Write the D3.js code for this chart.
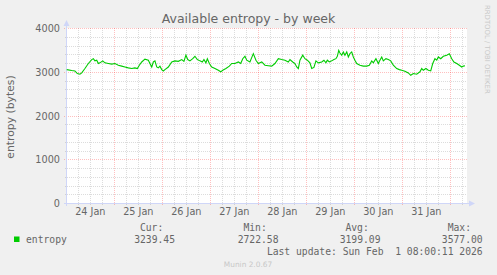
<!DOCTYPE html>
<html><head><meta charset="utf-8">
<script src="https://cdn.jsdelivr.net/npm/d3@7"></script>
<style>html,body{margin:0;padding:0;background:#f0f0f0;} svg{display:block;}</style>
</head><body>
<svg id="chart" width="497" height="275"></svg>
<script>
// ---- data ----
const title = "Available entropy - by week";
const yLabel = "entropy (bytes)";
const seriesName = "entropy";
const yTicks = [0, 1000, 2000, 3000, 4000];
const xTickLabels = ["24 Jan","25 Jan","26 Jan","27 Jan","28 Jan","29 Jan","30 Jan","31 Jan"];
const statLabels = ["Cur:", "Min:", "Avg:", "Max:"];
const statValues = ["3239.45", "2722.58", "3199.09", "3577.00"];
const lastUpdate = "Last update: Sun Feb  1 08:00:11 2026";
// hours since 24 Jan 2026 00:00 UTC
const hours = [0.2,2.7,4.3,5.5,6.8,7.7,9.3,11.0,12.7,13.5,14.3,15.2,16.0,16.8,18.2,19.3,21.0,22.7,24.3,26.0,27.7,29.3,31.0,32.7,34.3,35.5,36.5,37.7,39.3,41.0,41.8,42.7,43.5,44.3,45.2,46.0,46.8,47.7,48.5,49.3,51.0,52.7,54.3,56.0,57.7,58.8,59.8,60.7,61.8,63.2,64.3,65.5,66.8,68.0,68.8,69.8,70.5,71.5,72.7,74.3,76.0,77.2,78.2,79.8,81.5,82.7,84.3,86.0,87.2,88.2,89.3,90.2,91.8,
93.5,94.8,96.0,97.7,99.3,101.0,102.7,104.3,106.0,107.7,109.3,111.0,111.8,113.2,114.3,115.2,116.0,116.8,118.2,119.3,120.5,121.8,122.7,123.8,124.8,126.0,127.7,128.8,129.8,130.5,131.5,132.7,133.8,134.8,135.5,136.2,136.8,137.7,138.5,139.3,140.2,141.0,141.8,142.7,143.5,144.3,145.2,146.8,148.5,150.2,151.5,152.7,153.5,154.8,156.0,156.8,157.7,158.5,159.8,161.0,162.2,163.5,165.2,166.5,167.7,169.3,171.0,172.2,173.5,175.2,176.8,177.7,178.5,179.8,181.0,182.2,183.2,184.3,185.2,186.0,187.2,188.5,190.2,191.5,192.7,193.8,195.2,196.5,197.7,198.5,199.3];
const entropy = [3060,3040,3030,2970,2955,2985,3085,3200,3290,3310,3260,3275,3200,3215,3260,3215,3200,3185,3200,3160,3140,3120,3100,3085,3100,3085,3160,3235,3300,3275,3200,3120,3235,3260,3120,3100,3140,3060,3030,3060,3120,3235,3260,3250,3290,3250,3390,3290,3260,3310,3365,3290,3260,3235,3290,3215,3310,3200,3120,3085,3045,3010,3045,3085,3140,3200,3200,3235,3200,3310,3365,3275,3235,
3425,3275,3200,3235,3160,3150,3140,3200,3310,3290,3275,3235,3290,3235,3200,3120,3085,3275,3390,3310,3275,3215,3085,3110,3260,3215,3235,3275,3215,3275,3235,3260,3290,3310,3365,3500,3440,3390,3465,3390,3465,3350,3425,3465,3350,3275,3200,3160,3140,3140,3160,3260,3215,3310,3200,3275,3350,3260,3310,3290,3260,3160,3085,3060,3045,3025,2985,2930,2970,2955,3010,3085,3045,3085,3045,3030,3200,3310,3275,3350,3310,3365,3390,3425,3310,3235,3200,3160,3120,3140,3150];

// ---- layout ----
const svg = d3.select("#chart");
const W = 497, H = 275;
const pLeft = 67, pRight = 467, pTop = 28, pBottom = 203;
const fontSans = "'DejaVu Sans', sans-serif";
const fontMono = "'DejaVu Sans Mono', monospace";
const textCol = "#666666";
const axisCol = "#cfd6f8";
const minorCol = "rgba(140,140,140,0.3)";
const majorCol = "rgba(255,0,0,0.25)";

const t0 = Date.UTC(2026,0,24,0,0);
const tStart = new Date(Date.UTC(2026,0,24,0,20));
const tEnd = new Date(tStart.getTime() + 200*3600e3);

const x = d3.scaleUtc().domain([tStart, tEnd]).range([pLeft, pRight]);
const y = d3.scaleLinear().domain([0, 4000]).range([pBottom + 0.5, pTop + 0.5]);
const px = v => Math.floor(x(v)) + 0.5;
const py = v => Math.floor(y(v)) + 0.5;

svg.append("rect").attr("width", W).attr("height", H).attr("fill", "#f0f0f0");
svg.append("rect").attr("x", pLeft).attr("y", pTop).attr("width", pRight-pLeft).attr("height", pBottom-pTop+1).attr("fill", "#ffffff");

const grid = svg.append("g").attr("shape-rendering", "crispEdges");
d3.range(0, 4001, 200).filter(v => v % 1000 !== 0).forEach(v => {
  grid.append("line").attr("x1", pLeft-2).attr("x2", pRight).attr("y1", py(v)).attr("y2", py(v))
    .attr("stroke", minorCol).attr("stroke-dasharray", "1,1");
});
d3.utcHour.every(6).range(tStart, tEnd).filter(d => d.getUTCHours() !== 0).forEach(d => {
  grid.append("line").attr("x1", px(d)).attr("x2", px(d)).attr("y1", pTop).attr("y2", pBottom+2)
    .attr("stroke", minorCol).attr("stroke-dasharray", "1,1");
});
yTicks.forEach(v => {
  grid.append("line").attr("x1", pLeft-3).attr("x2", pRight).attr("y1", py(v)).attr("y2", py(v))
    .attr("stroke", majorCol).attr("stroke-dasharray", "1,1");
});
d3.utcDay.range(tStart, tEnd).forEach(d => {
  grid.append("line").attr("x1", px(d)).attr("x2", px(d)).attr("y1", pTop).attr("y2", pBottom+3)
    .attr("stroke", majorCol).attr("stroke-dasharray", "1,1");
});

// axes
const ax = svg.append("g");
ax.append("line").attr("x1", pLeft-0.5).attr("x2", pLeft-0.5).attr("y1", pBottom+3).attr("y2", pTop-4)
  .attr("stroke", axisCol).attr("shape-rendering", "crispEdges");
ax.append("path").attr("d", `M${pLeft-3.5},${pTop-2} L${pLeft-0.5},${pTop-8} L${pLeft+2.5},${pTop-2} Z`).attr("fill", axisCol);
ax.append("line").attr("x1", pLeft-3).attr("x2", pRight+3).attr("y1", pBottom+0.5).attr("y2", pBottom+0.5)
  .attr("stroke", axisCol).attr("shape-rendering", "crispEdges");
ax.append("path").attr("d", `M${pRight+2},${pBottom-2.5} L${pRight+8},${pBottom+0.5} L${pRight+2},${pBottom+3.5} Z`).attr("fill", axisCol);

// line
const data = hours.map((h, i) => ({t: new Date(t0 + h*3600e3), v: entropy[i]}));
svg.append("path").datum(data)
  .attr("d", d3.line().x(d => x(d.t)).y(d => y(d.v)))
  .attr("fill", "none").attr("stroke", "#00cc00").attr("stroke-width", 1.1);

// y tick labels
svg.append("g").selectAll("text").data(yTicks).join("text")
  .attr("x", 60).attr("y", d => py(d)).attr("dy", "0.35em")
  .attr("text-anchor", "end").attr("font-family", fontSans).attr("font-size", 9.7)
  .attr("fill", textCol).text(d => d);

// x tick labels (centered on noon)
svg.append("g").selectAll("text").data(xTickLabels).join("text")
  .attr("x", (d, i) => x(new Date(t0 + (i*24 + 12)*3600e3)))
  .attr("y", 215).attr("text-anchor", "middle").attr("font-family", fontSans).attr("font-size", 9.7)
  .attr("fill", textCol).text(d => d);

// title
svg.append("text").attr("x", 248.5).attr("y", 23).attr("text-anchor", "middle")
  .attr("font-family", fontSans).attr("font-size", 12.5).attr("fill", textCol).text(title);

// y label
svg.append("text").attr("transform", "translate(14,117) rotate(-90)").attr("text-anchor", "middle")
  .attr("font-family", fontSans).attr("font-size", 10.8).attr("fill", textCol).text(yLabel);

// rrdtool watermark (right side)
svg.append("text").attr("transform", "translate(485,5) rotate(90)").attr("text-anchor", "start")
  .attr("font-family", fontSans).attr("font-size", 6.9).attr("fill", "#c8c8c8").text("RRDTOOL / TOBI OETIKER");

// legend
svg.append("rect").attr("x", 14).attr("y", 236.5).attr("width", 5.5).attr("height", 5.5).attr("fill", "#00cc00");
svg.append("text").attr("x", 26).attr("y", 242.7).attr("font-family", fontMono).attr("font-size", 9.7)
  .attr("fill", textCol).text(seriesName);
const colEnds = [175, 278.5, 380.5, 482.7];
statLabels.forEach((s, i) => {
  svg.append("text").attr("x", colEnds[i] - 11.7).attr("y", 231).attr("text-anchor", "end")
    .attr("font-family", fontMono).attr("font-size", 9.7).attr("fill", textCol).text(s);
  svg.append("text").attr("x", colEnds[i]).attr("y", 242.7).attr("text-anchor", "end")
    .attr("font-family", fontMono).attr("font-size", 9.7).attr("fill", textCol).text(statValues[i]);
});
svg.append("text").attr("x", 482.7).attr("y", 254.5).attr("text-anchor", "end")
  .attr("font-family", fontMono).attr("font-size", 9.7).attr("fill", textCol)
  .attr("xml:space", "preserve").style("white-space", "pre").text(lastUpdate);

// munin watermark
svg.append("text").attr("x", 248).attr("y", 267).attr("text-anchor", "middle")
  .attr("font-family", fontSans).attr("font-size", 7.4).attr("fill", "#c8c8c8").text("Munin 2.0.67");
</script>
</body></html>
